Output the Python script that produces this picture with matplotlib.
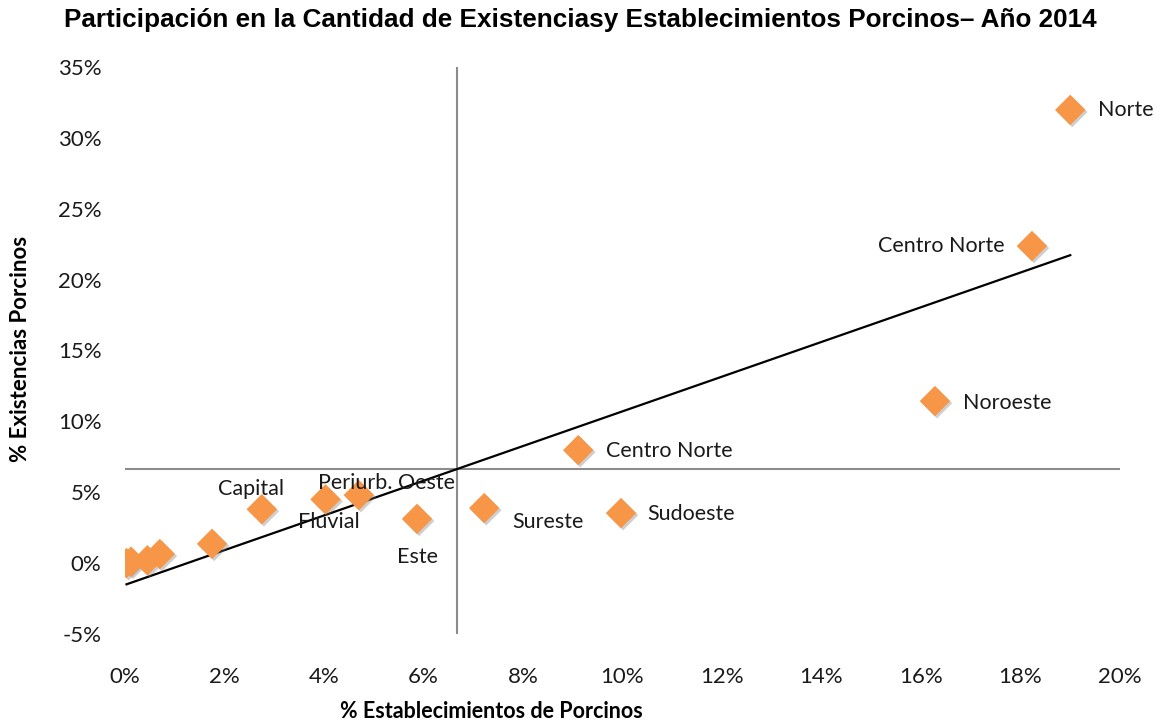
import numpy as np
import matplotlib
matplotlib.use("Agg")
import matplotlib.pyplot as plt
import matplotlib.patheffects as pe
from matplotlib.ticker import FuncFormatter

# Data (% of establishments, % of stock)
names = ["Norte", "Centro Norte", "Noroeste", "Centro Norte", "Sudoeste", "Sureste",
         "Este", "Periurb. Oeste", "Fluvial", "Capital", "", "", "", "", ""]
pct_establecimientos = [19.0, 18.23, 16.28, 9.11, 9.97, 7.22, 5.87, 4.70, 4.03, 2.75,
                        1.75, 0.70, 0.45, 0.12, 0.03]
pct_existencias = [31.97, 22.37, 11.43, 7.97, 3.53, 3.88, 3.12, 4.80, 4.50, 3.80,
                   1.36, 0.64, 0.20, 0.10, 0.00]

# label offsets in pixels (dx, dy, ha)
label_offsets = [(28, 0, "left"), (-27, 0, "right"), (28, -2, "left"), (28, -1, "left"),
                 (26, -1, "left"), (28, -14, "left"), (0, -38, "center"),
                 (-41, 12, "left"), (3, -23, "center"), (-11, 20, "center"),
                 (0, 0, "left"), (0, 0, "left"), (0, 0, "left"), (0, 0, "left"), (0, 0, "left")]

fig = plt.figure(figsize=(11.62, 7.24), dpi=100)
ax = fig.add_axes([125/1162, 90/724, 995/1162, 567/724])

x = np.array(pct_establecimientos)
y = np.array(pct_existencias)

ax.set_xlim(0, 20)
ax.set_ylim(-5, 35)

# crosshair at means
mx, my = x.mean(), y.mean()
ax.axvline(mx, color="#8c8c8c", lw=1.5, zorder=1)
ax.axhline(my, color="#8c8c8c", lw=1.5, zorder=1)

# trend line
b, a = np.polyfit(x, y, 1)
xs = np.array([x.min(), x.max()])
ax.plot(xs, a + b * xs, color="black", lw=1.6, zorder=2)

sc = ax.scatter(x, y, marker="D", s=15.5**2, color="#F79646", edgecolors="none", zorder=3)
sc.set_path_effects([pe.SimplePatchShadow(offset=(1.5, -1.5), shadow_rgbFace="#777777", alpha=0.35),
                     pe.Normal()])

label_font = "Lato"
for xi, yi, nm, (dx, dy, ha) in zip(x, y, names, label_offsets):
    if nm:
        ax.annotate(nm, (xi, yi), xytext=(dx, dy), textcoords="offset pixels",
                    ha=ha, va="center", fontsize=15.5, family=label_font, color="#1a1a1a",
                    zorder=4)

ax.set_xticks(np.arange(0, 21, 2))
ax.set_yticks(np.arange(-5, 36, 5))
ax.xaxis.set_major_formatter(FuncFormatter(lambda v, p: f"{v:.0f}%"))
ax.yaxis.set_major_formatter(FuncFormatter(lambda v, p: f"{v:.0f}%"))
ax.tick_params(axis="both", length=0, labelsize=16)
ax.tick_params(axis="x", pad=24)
ax.tick_params(axis="y", pad=17)
for lab in ax.get_xticklabels() + ax.get_yticklabels():
    lab.set_family(label_font)
    lab.set_color("#1a1a1a")
for s in ax.spines.values():
    s.set_visible(False)

fig.text(491/1162, 1 - 711/724, "% Establecimientos de Porcinos", ha="center", va="center",
         fontsize=15.5, fontweight="bold", family=label_font)
fig.text(21/1162, 1 - 349/724, "% Existencias Porcinos", ha="center", va="center",
         rotation=90, fontsize=16, fontweight="bold", family=label_font)
fig.text(580/1162, 1 - 20/724,
         "Participación en la Cantidad de Existenciasy Establecimientos Porcinos– Año 2014",
         ha="center", va="center", fontsize=18.8, fontweight="bold", family="Liberation Sans")

fig.savefig("out.png", dpi=100)
